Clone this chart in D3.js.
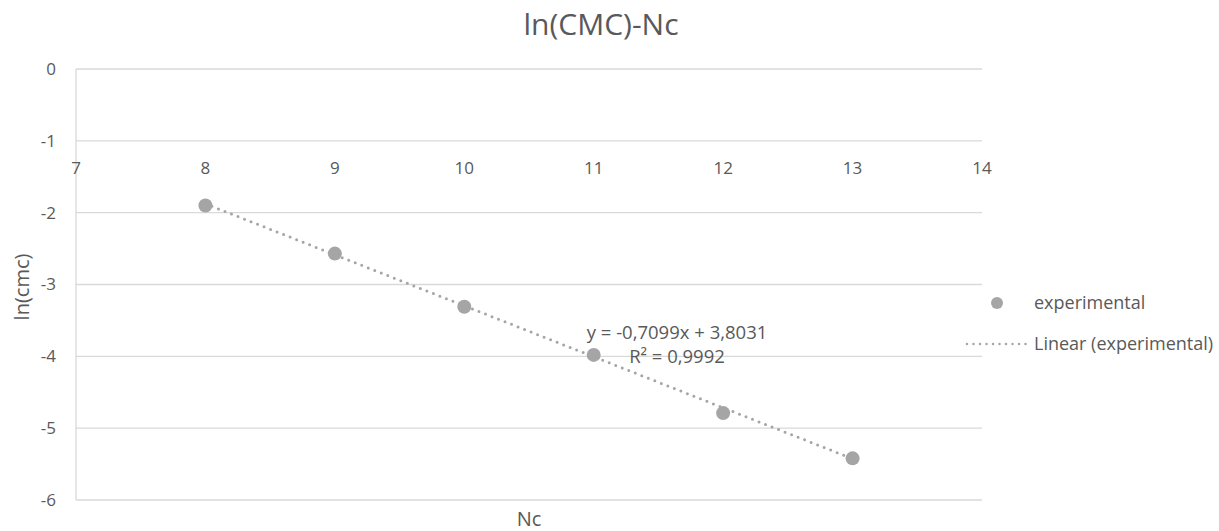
<!DOCTYPE html>
<html>
<head>
<meta charset="utf-8">
<script src="https://cdn.jsdelivr.net/npm/d3@7"></script>
<style>
  body { margin: 0; background: #fff; }
  svg text { font-family: "Open Sans", Lato, sans-serif; fill: #595959; }
</style>
</head>
<body>
<svg id="chart" width="1219" height="531"></svg>
<script>
// Carbon chain length vs ln(CMC)
const nc = [8, 9, 10, 11, 12, 13];
const lnCmc = [-1.90, -2.57, -3.31, -3.98, -4.79, -5.42];
const xTicks = [7, 8, 9, 10, 11, 12, 13, 14];
const yTicks = [0, -1, -2, -3, -4, -5, -6];
// Linear trendline coefficients as reported on the chart
const slope = -0.7099;
const intercept = 3.8031;
const r2 = 0.9992;

const svg = d3.select("#chart");
const x = d3.scaleLinear().domain([7, 14]).range([76, 982]);
const y = d3.scaleLinear().domain([0, -6]).range([69, 500]);
const grey = "#a5a5a5";

// horizontal gridlines
svg.append("g").selectAll("line").data(yTicks).join("line")
  .attr("x1", x(7)).attr("x2", x(14))
  .attr("y1", d => y(d)).attr("y2", d => y(d))
  .attr("stroke", "#d9d9d9").attr("stroke-width", 1.3);

// vertical value axis line
svg.append("line")
  .attr("x1", x(7)).attr("x2", x(7)).attr("y1", y(0)).attr("y2", y(-6))
  .attr("stroke", "#d9d9d9").attr("stroke-width", 1.3);

// y tick labels
svg.append("g").selectAll("text").data(yTicks).join("text")
  .attr("x", 56).attr("y", d => y(d)).attr("dy", "0.35em")
  .attr("text-anchor", "end").attr("font-size", 17)
  .text(d => d);

// x tick labels sit under the y = -1 line
svg.append("g").selectAll("text").data(xTicks).join("text")
  .attr("x", d => x(d)).attr("y", y(-1) + 33)
  .attr("text-anchor", "middle").attr("font-size", 17)
  .text(d => d);

// trendline
const tx0 = d3.min(nc), tx1 = d3.max(nc);
svg.append("line")
  .attr("x1", x(tx0)).attr("y1", y(slope * tx0 + intercept))
  .attr("x2", x(tx1)).attr("y2", y(slope * tx1 + intercept))
  .attr("stroke", grey).attr("stroke-width", 3)
  .attr("stroke-linecap", "round").attr("stroke-dasharray", "0,7");

// data points
svg.append("g").selectAll("circle").data(nc).join("circle")
  .attr("cx", d => x(d)).attr("cy", (d, i) => y(lnCmc[i]))
  .attr("r", 7).attr("fill", grey);

// equation label
const fmt = v => v.toFixed(4).replace(".", ",");
const eq = svg.append("text").attr("text-anchor", "middle").attr("font-size", 18.5);
eq.append("tspan").attr("x", 677).attr("y", 339)
  .text(`y = ${fmt(slope)}x + ${fmt(intercept)}`);
eq.append("tspan").attr("x", 677).attr("y", 363)
  .text(`R² = ${fmt(r2)}`);

// title and axis titles
svg.append("text").attr("x", 601).attr("y", 35).attr("text-anchor", "middle")
  .attr("font-size", 30).text("ln(CMC)-Nc");
svg.append("text").attr("x", 529).attr("y", 526).attr("text-anchor", "middle")
  .attr("font-size", 20).text("Nc");
svg.append("text").attr("transform", "translate(29,287) rotate(-90)")
  .attr("text-anchor", "middle").attr("font-size", 20).text("ln(cmc)");

// legend
const lg = svg.append("g");
lg.append("circle").attr("cx", 997).attr("cy", 303).attr("r", 6).attr("fill", grey);
lg.append("text").attr("x", 1034).attr("y", 303).attr("dy", "0.35em")
  .attr("font-size", 18).text("experimental");
lg.append("line").attr("x1", 967).attr("x2", 1027).attr("y1", 344).attr("y2", 344)
  .attr("stroke", grey).attr("stroke-width", 2.5)
  .attr("stroke-linecap", "round").attr("stroke-dasharray", "0,6.5");
lg.append("text").attr("x", 1034).attr("y", 344).attr("dy", "0.35em")
  .attr("font-size", 18).text("Linear (experimental)");
</script>
</body>
</html>
